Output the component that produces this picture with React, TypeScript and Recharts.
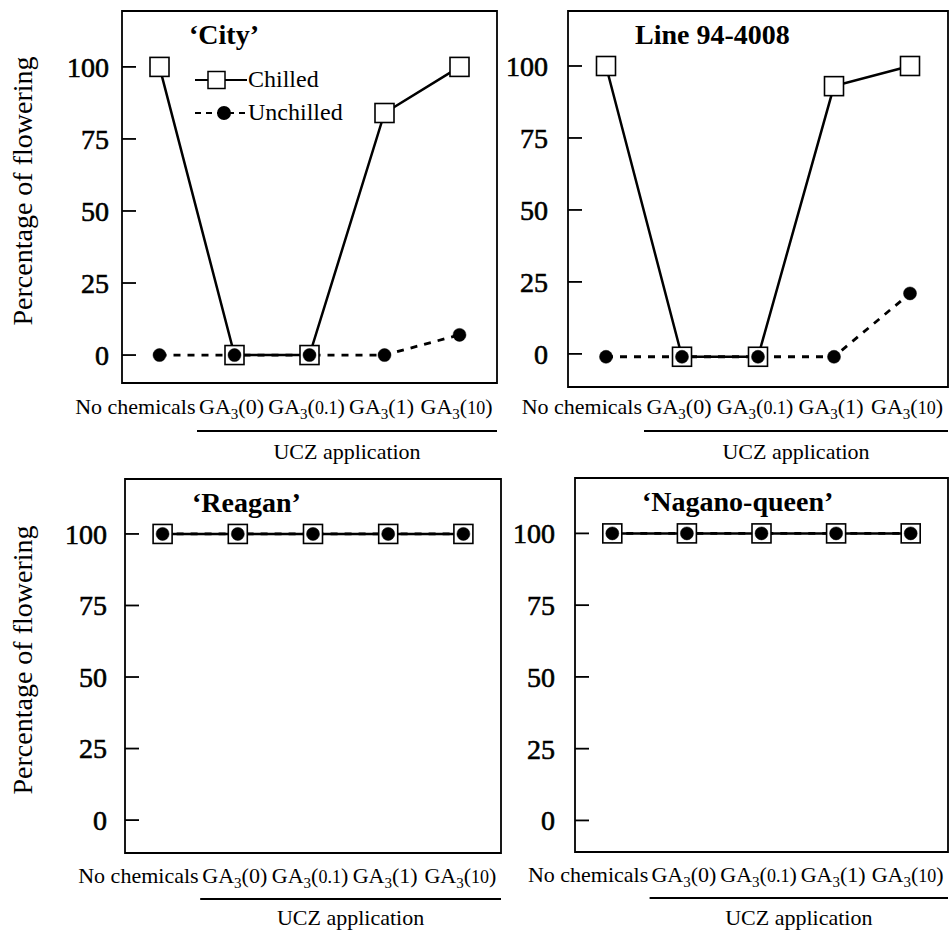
import React from 'react';
import { LineChart, Line, XAxis, YAxis, ReferenceArea, Legend } from 'recharts';

const categories = ['No chemicals', 'GA3(0)', 'GA3(0.1)', 'GA3(1)', 'GA3(10)'];
const yTicks = [0, 25, 50, 75, 100];

const cityChilled = [100, 0, 0, 84, 100];
const cityUnchilled = [0, 0, 0, 0, 7];
const line94Chilled = [100, -1, -1, 93, 100];
const line94Unchilled = [-1, -1, -1, -1, 21];
const reaganChilled = [100, 100, 100, 100, 100];
const reaganUnchilled = [100, 100, 100, 100, 100];
const naganoChilled = [100, 100, 100, 100, 100];
const naganoUnchilled = [100, 100, 100, 100, 100];

const FONT = '"Liberation Serif", "DejaVu Serif", serif';

// frame = plot box in page pixels, chart = svg box
// below = offsets under the frame for tick labels, bracket line, UCZ text
const panels = [
  {
    title: '\u2018City\u2019', chilled: cityChilled, unchilled: cityUnchilled,
    chart: { left: 0, top: 0, width: 500, height: 466 },
    frame: { l: 122, t: 11, r: 497, b: 383 },
    domain: [-9.7, 119.4], gap: 13, yTitle: true, legend: true, below: [30, 47, 75],
  },
  {
    title: 'Line 94-4008', chilled: line94Chilled, unchilled: line94Unchilled,
    chart: { left: 450, top: 0, width: 499, height: 466 },
    frame: { l: 568, t: 11, r: 948, b: 387 },
    domain: [-11.5, 119.1], gap: 20, yTitle: false, legend: false, below: [26, 43, 71],
  },
  {
    title: '\u2018Reagan\u2019', chilled: reaganChilled, unchilled: reaganUnchilled,
    chart: { left: 0, top: 466, width: 504, height: 466 },
    frame: { l: 125, t: 479, r: 501, b: 853 },
    domain: [-11.5, 119.2], gap: 18, yTitle: true, legend: false, below: [29, 45, 71],
  },
  {
    title: '\u2018Nagano-queen\u2019', chilled: naganoChilled, unchilled: naganoUnchilled,
    chart: { left: 450, top: 466, width: 499, height: 466 },
    frame: { l: 575, t: 478, r: 948, b: 852 },
    domain: [-11, 119.3], gap: 20, yTitle: false, legend: false, below: [29, 45, 72],
  },
];

function SquareDot(props: any) {
  const { cx, cy, index } = props;
  if (cx == null || cy == null) return null;
  return (
    <rect key={`sq-${index}`} x={cx - 9.5} y={cy - 9.5} width={19} height={19}
      fill="#fff" stroke="#000" strokeWidth={1.6} />
  );
}

function makeCategoryTick(dy: number) {
  return function CategoryTick(props: any) {
    const { x, y, payload } = props;
    const name = categories[Math.floor(payload.value)];
    if (!name.startsWith('GA3')) {
      return (
        <text x={x + 36} y={y + dy} textAnchor="end" fontSize={22} fontFamily={FONT} fill="#000">
          {name}
        </text>
      );
    }
    const inner = name.slice(4, -1);
    const small = inner.length > 1;
    return (
      <text x={x - 3} y={y + dy} textAnchor="middle" fontSize={22} fontFamily={FONT} fill="#000">
        GA<tspan fontSize={15} dy={5}>3</tspan>
        <tspan dy={-5}>(</tspan>
        <tspan fontSize={small ? 18 : 22}>{inner}</tspan>)
      </text>
    );
  };
}

function UczLabel(props: any) {
  const { x, y, width } = props.viewBox;
  const [, lineDy, textDy] = props.below;
  const start = x + width / categories.length;
  return (
    <g>
      <line x1={start} x2={x + width} y1={y + lineDy} y2={y + lineDy} stroke="#000" strokeWidth={2} />
      <text x={(start + x + width) / 2} y={y + textDy} textAnchor="middle" fontSize={22}
        fontFamily={FONT} fill="#000">
        UCZ application
      </text>
    </g>
  );
}

function YTitle(props: any) {
  const { x, y, height } = props.viewBox;
  const cx = x + 32;
  const cy = y + height / 2 - 6;
  return (
    <text transform={`translate(${cx},${cy}) rotate(-90)`} textAnchor="middle" fontSize={28}
      fontFamily={FONT} fill="#000">
      Percentage of flowering
    </text>
  );
}

function LegendContent(props: any) {
  const { payload } = props;
  return (
    <div style={{ fontFamily: FONT, fontSize: 24, color: '#000' }}>
      {(payload || []).map((entry: any) => (
        <div key={entry.value} style={{ display: 'flex', alignItems: 'center', height: 33 }}>
          <svg width={53} height={20} style={{ display: 'block' }}>
            <line x1={0} x2={52} y1={10} y2={10} stroke="#000" strokeWidth={2}
              strokeDasharray={entry.value === 'Unchilled' ? '6 5' : undefined} />
            {entry.value === 'Chilled' ? (
              <rect x={13} y={1.5} width={17} height={17} fill="#fff" stroke="#000" strokeWidth={1.5} />
            ) : (
              <circle cx={29} cy={10} r={7} fill="#000" />
            )}
          </svg>
          <span style={{ lineHeight: '33px' }}>{entry.value}</span>
        </div>
      ))}
    </div>
  );
}

function Panel(p: any) {
  const { chart, frame } = p;
  const data = categories.map((name, i) => ({
    x: i + 0.5,
    name,
    chilled: p.chilled[i],
    unchilled: p.unchilled[i],
  }));
  const centers = categories.map((_, i) => i + 0.5);
  const bounds = categories.slice(1).map((_, i) => i + 1);
  const margin = {
    top: frame.t - chart.top,
    right: chart.left + chart.width - frame.r,
    bottom: chart.top + chart.height - frame.b - 2,
    left: 0,
  };
  const tickLine = { stroke: '#000', strokeWidth: 1.8 };
  const CategoryTick = makeCategoryTick(p.below[0]);

  return (
    <div style={{ position: 'absolute', left: chart.left, top: chart.top, width: chart.width, height: chart.height }}>
      <LineChart width={chart.width} height={chart.height} data={data} margin={margin}>
        <XAxis xAxisId={0} dataKey="x" type="number" domain={[0, categories.length]} allowDataOverflow
          ticks={bounds} interval={0} tick={false} tickSize={-14} height={1}
          axisLine={false} tickLine={tickLine} />
        <XAxis xAxisId="lab" dataKey="x" type="number" domain={[0, categories.length]} allowDataOverflow
          ticks={centers} interval={0} tick={<CategoryTick />} tickSize={0} tickMargin={0} height={1}
          axisLine={false} tickLine={false} label={(lp: any) => <UczLabel {...lp} below={p.below} />} />
        <YAxis type="number" domain={p.domain} allowDataOverflow ticks={yTicks} interval={0}
          width={frame.l - chart.left} tickSize={-14} tickMargin={14 + p.gap}
          axisLine={false} tickLine={tickLine}
          tick={{ fontSize: 28, fill: '#000', stroke: '#000', strokeWidth: 0.6, fontFamily: FONT }}
          label={p.yTitle ? (lp: any) => <YTitle {...lp} /> : undefined} />
        <ReferenceArea x1={0} x2={categories.length} y1={p.domain[0]} y2={p.domain[1]}
          fill="none" fillOpacity={0} stroke="#000" strokeWidth={1.8} ifOverflow="visible"
          label={(lp: any) => (
            <text x={lp.viewBox.x + 67} y={lp.viewBox.y + 33} fontSize={28} fontWeight="bold"
              fontFamily={FONT} fill="#000">
              {p.title}
            </text>
          )} />
        {p.legend && (
          <Legend content={<LegendContent />} layout="vertical" align="center" verticalAlign="middle"
            wrapperStyle={{ left: 195, top: 63, width: 'auto' }} />
        )}
        <Line type="linear" dataKey="chilled" name="Chilled" stroke="#000" strokeWidth={2.5}
          dot={SquareDot} activeDot={false} isAnimationActive={false} />
        <Line type="linear" dataKey="unchilled" name="Unchilled" stroke="#000" strokeWidth={2.8}
          strokeDasharray="7 7"
          dot={{ r: 6.5, fill: '#000', stroke: '#000', strokeWidth: 0.5, strokeDasharray: '0' }}
          activeDot={false} isAnimationActive={false} />
      </LineChart>
    </div>
  );
}

export default function App() {
  return (
    <div style={{ position: 'absolute', left: 0, top: 0, width: 949, height: 932, background: '#fff', fontFamily: FONT }}>
      {panels.map((p) => (
        <Panel key={p.title} {...p} />
      ))}
    </div>
  );
}
